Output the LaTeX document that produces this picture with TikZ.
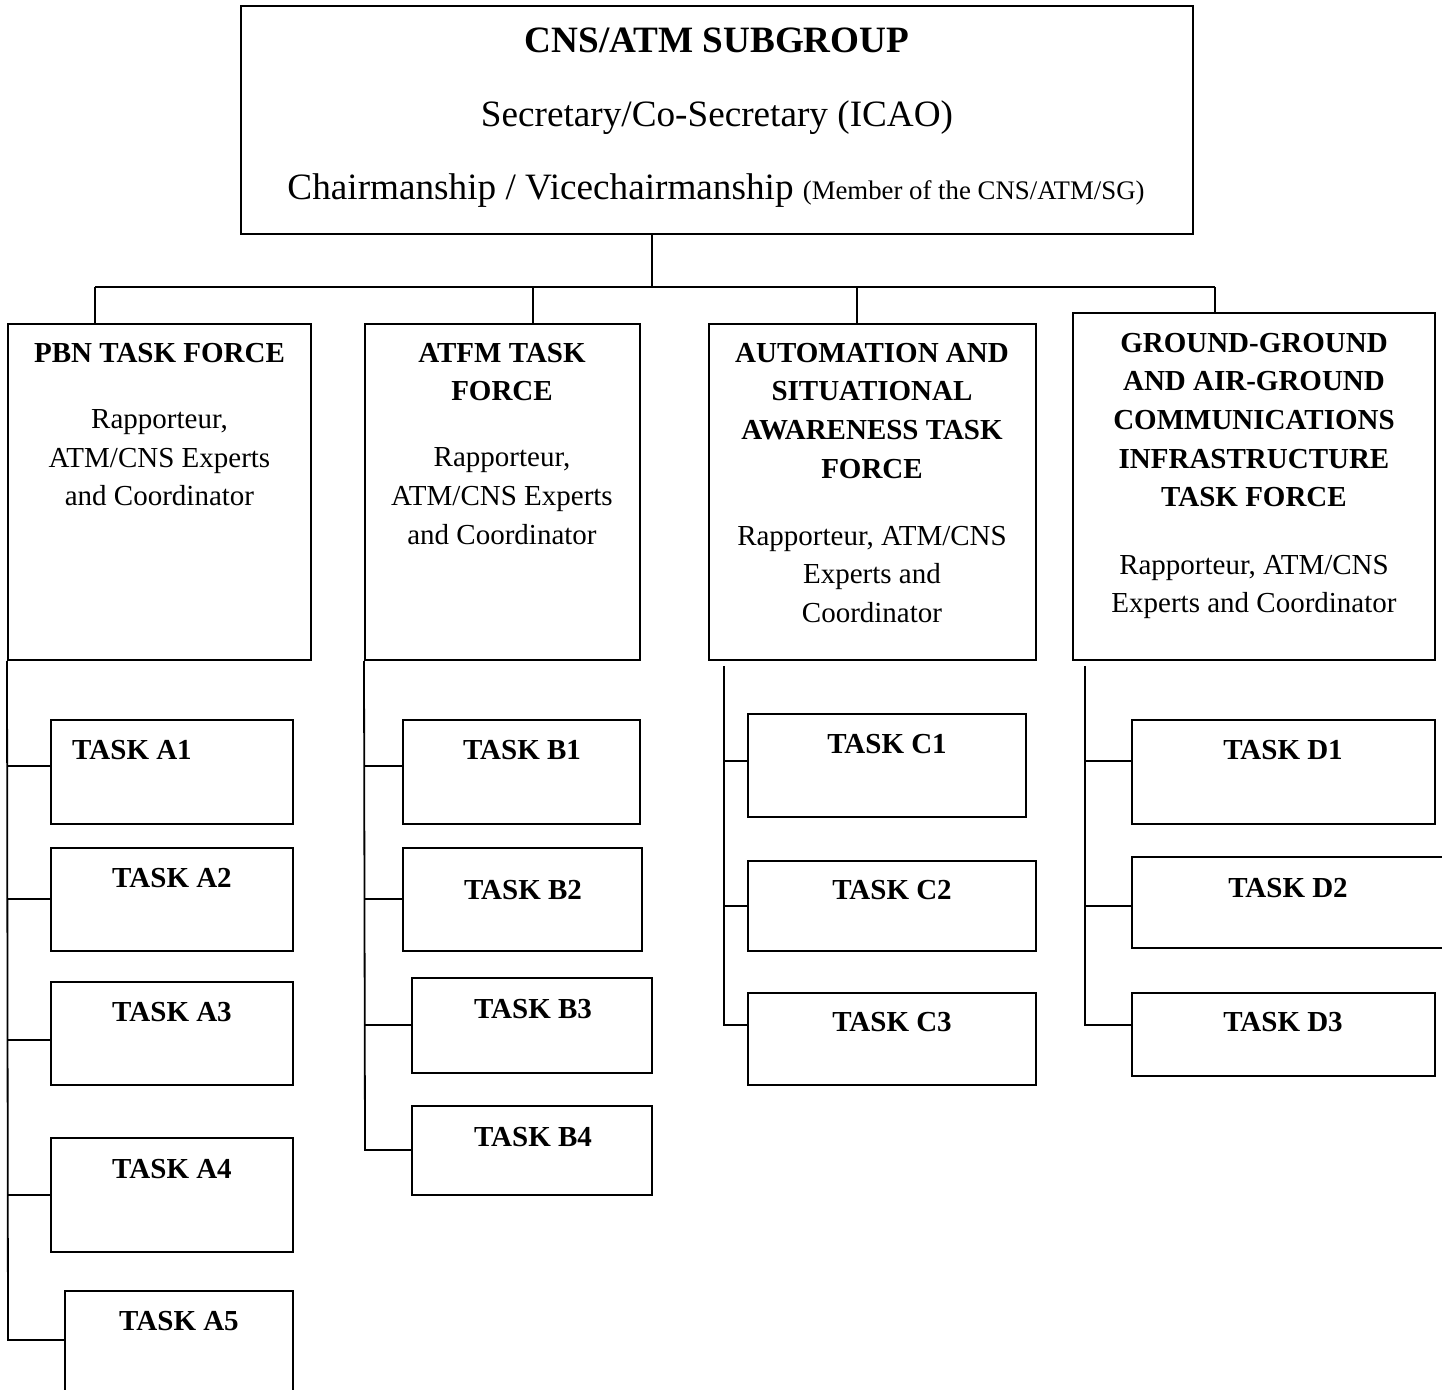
\documentclass[tikz,border=0pt]{standalone}
\usepackage{fontspec}
\setmainfont{Liberation Serif}
\usetikzlibrary{fit}
\begin{document}
\begin{tikzpicture}[x=0.5pt,y=-0.5pt,
  box/.style={draw, line width=1pt, inner sep=0pt},
  conn/.style={line width=0.9pt},
  tftitle/.style={anchor=north, inner sep=0pt, align=center, font=\fontsize{14.5}{19.35}\selectfont\bfseries},
  tfbody/.style={anchor=north, inner sep=0pt, align=center, font=\fontsize{14.5}{19.35}\selectfont},
  tasklbl/.style={anchor=base, inner sep=0pt, font=\fontsize{14.5}{17}\selectfont\bfseries},
  toplbl/.style={anchor=base, inner sep=0pt, font=\fontsize{18.6}{22}\selectfont},
]
\clip (0,0) rectangle (1442,1390);
% top box
\node[box, fit={(241,6) (1193,234)}] (top) {};
\node[toplbl, font=\fontsize{18.6}{22}\selectfont\bfseries] (t1) at (717,53) {CNS/ATM SUBGROUP};
\node[toplbl] (t2) at (717,127) {Secretary/Co-Secretary (ICAO)};
\node[toplbl] (t3) at (716,200) {Chairmanship / Vicechairmanship {\fontsize{13.4}{16}\selectfont (Member of the CNS/ATM/SG)}};

% task force boxes
\node[box, fit={(8,324) (311,660)}] (pbn) {};
\node[box, fit={(365,324) (640,660)}] (atfm) {};
\node[box, fit={(709,324) (1036,660)}] (auto) {};
\node[box, fit={(1073,313) (1435,660)}] (ground) {};

\node[tftitle] (pbnT) at (159.5,342.5) {PBN TASK FORCE};
\node[tfbody] (pbnB) at (159.5,409) {Rapporteur,\\ATM/CNS Experts\\and Coordinator};
\node[tftitle] (atfmT) at (502,342.5) {ATFM TASK\\FORCE};
\node[tfbody] (atfmB) at (502,447.5) {Rapporteur,\\ATM/CNS Experts\\and Coordinator};
\node[tftitle] (autoT) at (872,342.5) {AUTOMATION AND\\SITUATIONAL\\AWARENESS TASK\\FORCE};
\node[tfbody] (autoB) at (872,525.5) {Rapporteur, ATM/CNS\\Experts and\\Coordinator};
\node[tftitle] (groundT) at (1254,332.5) {GROUND-GROUND\\AND AIR-GROUND\\COMMUNICATIONS\\INFRASTRUCTURE\\TASK FORCE};
\node[tfbody] (groundB) at (1254,554.5) {Rapporteur, ATM/CNS\\Experts and Coordinator};

% top connectors
\coordinate (j) at (652,287);
\coordinate (jl) at (95,287);
\coordinate (jb) at (533,287);
\coordinate (jc) at (857,287);
\coordinate (jr) at (1215,287);
\draw[conn] (top.south -| j) -- (j);
\draw[conn] (jl) -- (jr);
\draw[conn] (jl) -- (jl |- pbn.north);
\draw[conn] (jb) -- (jb |- atfm.north);
\draw[conn] (jc) -- (jc |- auto.north);
\draw[conn] (jr) -- (jr |- ground.north);

% A tasks
\node[box, fit={(51,720) (293,824)}] (a1) {};
\node[box, fit={(51,848) (293,951)}] (a2) {};
\node[box, fit={(51,982) (293,1085)}] (a3) {};
\node[box, fit={(51,1138) (293,1252)}] (a4) {};
\node[box, fit={(65,1291) (293,1400)}] (a5) {};
\node[tasklbl] (a1t) at (132,760) {TASK A1};
\node[tasklbl] (a2t) at (172,887) {TASK A2};
\node[tasklbl] (a3t) at (172,1021) {TASK A3};
\node[tasklbl] (a4t) at (172,1178) {TASK A4};
\node[tasklbl] (a5t) at (179,1330) {TASK A5};
\coordinate (ta1) at (8,766);
\coordinate (ta2) at (8,899);
\coordinate (ta3) at (8,1040);
\coordinate (ta4) at (8,1195);
\coordinate (ta5) at (8,1340);
\draw[conn] (pbn.south west) -- (ta5) -- (ta5 -| a5.west);
\foreach \i in {1,2,3,4} \draw[conn] (ta\i) -- (ta\i -| a\i.west);

% B tasks
\node[box, fit={(403,720) (640,824)}] (b1) {};
\node[box, fit={(403,848) (642,951)}] (b2) {};
\node[box, fit={(412,978) (652,1073)}] (b3) {};
\node[box, fit={(412,1106) (652,1195)}] (b4) {};
\node[tasklbl] (b1t) at (522,760) {TASK B1};
\node[tasklbl] (b2t) at (523,899) {TASK B2};
\node[tasklbl] (b3t) at (533,1018) {TASK B3};
\node[tasklbl] (b4t) at (533,1146) {TASK B4};
\coordinate (tb1) at (365,766);
\coordinate (tb2) at (365,899);
\coordinate (tb3) at (365,1025);
\coordinate (tb4) at (365,1150);
\draw[conn] (atfm.south west) -- (tb4) -- (tb4 -| b4.west);
\foreach \i in {1,2,3} \draw[conn] (tb\i) -- (tb\i -| b\i.west);

% C tasks
\node[box, fit={(748,714) (1026,817)}] (c1) {};
\node[box, fit={(748,861) (1036,951)}] (c2) {};
\node[box, fit={(748,993) (1036,1085)}] (c3) {};
\node[tasklbl] (c1t) at (887,754) {TASK C1};
\node[tasklbl] (c2t) at (892,899) {TASK C2};
\node[tasklbl] (c3t) at (892,1031) {TASK C3};
\coordinate (tc0) at (724,666);
\coordinate (tc1) at (724,761);
\coordinate (tc2) at (724,906);
\coordinate (tc3) at (724,1025);
\draw[conn] (tc0) -- (tc3) -- (tc3 -| c3.west);
\foreach \i in {1,2} \draw[conn] (tc\i) -- (tc\i -| c\i.west);

% D tasks
\node[box, fit={(1132,720) (1435,824)}] (d1) {};
\node[box, fit={(1132,857) (1460,948)}] (d2) {};
\node[box, fit={(1132,993) (1435,1076)}] (d3) {};
\node[tasklbl] (d1t) at (1283,760) {TASK D1};
\node[tasklbl] (d2t) at (1288,897) {TASK D2};
\node[tasklbl] (d3t) at (1283,1031) {TASK D3};
\coordinate (td0) at (1085,666);
\coordinate (td1) at (1085,761);
\coordinate (td2) at (1085,906);
\coordinate (td3) at (1085,1025);
\draw[conn] (td0) -- (td3) -- (td3 -| d3.west);
\foreach \i in {1,2} \draw[conn] (td\i) -- (td\i -| d\i.west);
\end{tikzpicture}
\end{document}
